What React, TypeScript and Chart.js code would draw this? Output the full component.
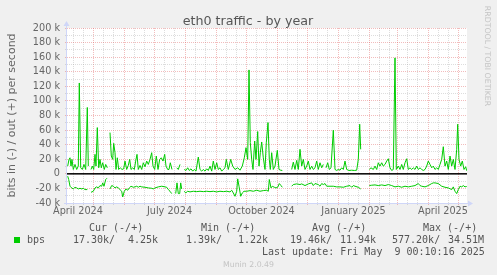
import React, { useEffect, useRef } from 'react';
import { Chart, registerables } from 'chart.js';

Chart.register(...registerables);

// x = days since 1 April 2024, y = thousands of bits per second
const outDays = [4.7, 6, 7, 8, 9, 10.3, 12, 13.7, 15.3, 16.3, 17.7, 19.3, 21, 22.7, 24.3, 25.3, 26.5,
  28, 29.3, 30.7, 32, 33, 34.3, 35.7, 37, 38.3, 39.7, 41.3, 42.7, 44.3, 45.5,
  47, 48.3, 49.7, 50.7, 52, 53, 54.3, 55.7, 57.3, 59, 60.7, 62, 63.7, 65.3, 66.7, 68, 69.7, 71.3, 72.7, 74, 75.3, 77, 78.7, 80.3, 82, 83.7, 85.3, 87, 88.7, 90, 91.7, 93.3, 95, 96.7, 98.3, 100, 101.7, 103, 104.7, 106, 107.3, 109, 111,
  113.7, 115.3, 117, 119,
  121.3, 123, 124.7, 126.3, 128, 129.7, 131.3, 133, 135.3, 137, 138.7, 140.3, 142, 143.7, 145.3, 147, 148.7, 150.3, 152, 153.7, 155.3, 157, 158.7, 160.3, 162, 163.3, 165.3, 167.7, 169.7, 172, 174.7, 177, 179.3, 181.3, 183, 184.7, 186, 187.3, 188.7, 190, 191.7, 193, 194.7, 196, 197.3, 198.7, 200.3, 202, 203.3, 205, 206.3, 207.3, 208.7, 210.3, 212, 214.3, 216, 217.7, 219.3, 224,
  228.7, 230.3, 232, 233.7, 235.3, 237, 238.7, 240.3, 242, 243.7, 245.3, 247, 248.7, 250.3, 252, 253.7, 255.3, 257, 258.7, 260.3, 261.5,
  263, 264.7, 266.3, 268, 270.3, 272, 273.7, 275.3, 277, 278.7, 280.3, 282, 283.7, 286, 288.7, 291.3, 293.7, 295.3, 296.7, 297.7, 302,
  306.3, 308, 310.3, 312, 313.7, 315.3, 317, 318.7, 320.3, 322, 323.7, 325.3, 327, 328.7, 330.3, 332, 333.3, 335.3, 337, 338.7, 340.3, 342, 343.7, 345.3, 347, 348.7, 350.3, 352, 353.7, 355.3, 357, 358.7, 360.3, 362, 363.7, 365.3, 367, 368.7, 370.3, 372, 373.7, 375.3, 377, 378.7, 380.3, 382, 383.7, 385.3, 387, 388.7, 390.3, 392, 393.7, 394.7, 396, 397.7, 399.3, 401, 402.7, 403.7];
const outValues = [10.6, 19.8, 22, 10.6, 19.8, 6, 12.9, 6, 10.6, 124.6, 8.3, 6, 12.9, 6, 91, 10.6, null,
  6, 10.6, 6, 26.7, 10.6, 63.4, 8.3, 19.8, 8.3, 15.2, 6, 12.9, 8.3, null,
  56.6, 24.4, 19.8, 41.8, 29, 6, 22, 6, 8.3, 6, 6.9, 17.5, 6, 11.5, 19.8, 6, 8.3, 6, 17.5, 26.7, 6, 11.5, 6, 15.2, 9.7, 17.5, 12.9, 19.8, 29, 10.6, 6, 24.4, 6, 19.8, 22, 17.5, 26.7, 10.6, 6, 6, 15.2, 6, null,
  8.3, 6, 12.9, null,
  6, 4.6, 8.3, 4.6, 6.9, 3.7, 6, 3.7, 23, 6, 3.7, 6, 3.7, 6.9, 4.6, 10.6, 3.7, 17.5, 6, 15.2, 6, 8.3, 3.7, 6, 8.3, 19.8, 6, 19.8, 10.6, 6, 8.3, 5, 10.6, 22, 35.9, 19.8, 142.5, 42.8, 19.8, 6, 45, 19.8, 58, 10.6, 29, 43.7, 22, 6, 42.8, 70.3, 19.8, 6, 29, 6, 10.6, 32.2, 6, 5, 4.6, null,
  6, 16, 6, 18.4, 6, 33.6, 10.6, 19.8, 6, 10.6, 17.5, 6, 10.6, 6, 8.3, 17.5, 6, 15.2, 8.3, 12.9, null,
  8.3, 15.2, 6, 8.3, 59.8, 6, 4.6, 6, 5, 8.3, 6, 17.5, 6, 4.6, 5, 4.6, 5, 19.8, 68, 33.6, null,
  6, 8.3, 6, 10.6, 6, 15.2, 10.6, 15.2, 10.6, 12.9, 17.5, 20.7, 8.3, 4.6, 6, 159, 6, 10.6, 6, 12.9, 6, 15.2, 20.7, 6, 8.3, 6, 8.3, 6, 10.6, 6, 8.3, 6, 4.6, 6, 10.6, 17.5, 12.9, 8.3, 10.6, 6, 8.3, 6, 12.9, 19.8, 37.2, 10.6, 17.5, 6, 24.4, 10.6, 19.8, 6, 33.6, 68, 19.8, 10.6, 17.5, 6, 9.7, 4.25];

const inDays = [4.7, 5.7, 7, 8.7, 10.3, 12, 13.7, 15.3, 17, 18.7, 20.3, 22, 24.3, 26,
  28, 30.3, 32, 33.7, 35.3, 37, 38.7, 39.7, 41, 42.7, 44, 45.5,
  47, 48.7, 50.3, 52, 53.7, 55.3, 57, 58.7, 59.7, 61.3, 63, 64.7, 66.3, 68, 70.3, 72, 73.7, 75.3, 77, 78.7, 82, 85.3, 88.7, 90.3, 92, 95.3, 98.7, 102, 103.7, 105.3, 107, 108.7, 110.5,
  112.7, 114, 115.3, 116.7, 117.7, 118.7, 120,
  121.3, 122.7, 124.7, 127, 130.3, 133.7, 137, 140.3, 143.7, 147, 150.3, 153.7, 157, 160.3, 163.7, 167, 168.7, 170.3, 172, 173.7, 174.7, 176, 177.7, 179.3, 181, 183.7, 187, 190.3, 193.7, 197, 200.3, 203.7, 205.3, 206.3, 208, 209.3, 211.3, 213, 214.7, 216.3, 218, 219.3, 224,
  228.7, 230.3, 233.7, 237, 238.7, 242, 245.3, 248.7, 250.3, 252, 255.3, 257, 258.7, 260.3, 262, 263.7, 267, 270.3, 273.7, 277, 280.3, 283.7, 287, 288.7, 290.3, 292, 295.3, 297.7, 302,
  306.3, 308.7, 312, 315.3, 318.7, 322, 325.3, 328.7, 332, 335.3, 338.7, 342, 345.3, 348.7, 352, 355.3, 357, 358.7, 362, 365.3, 368.7, 370.3, 372, 375.3, 378.7, 382, 385.3, 388.7, 390.3, 392, 393.7, 395.3, 397, 398.7, 400.3, 402, 403.7];
const inValues = [-3.2, -7.8, -17, -19.3, -20.7, -18.4, -19.3, -20.7, -19.8, -20.7, -19.8, -21.6, -21.6, null,
  -25.3, -23.9, -19.3, -17.9, -19.3, -16.1, -17, -12.4, -17, -7.8, -6, null,
  -20.7, -16.1, -17, -19.3, -17.9, -19.3, -21.6, -23.9, -31.7, -23.9, -20.7, -22.5, -19.3, -17, -18.4, -17.9, -17, -18.4, -17, -17.9, -18.4, -19.3, -19.8, -20.7, -19.3, -17.9, -17, -17.9, -18.4, -21.6, -23.9, -27.1, null,
  -27.1, -12.4, -27.1, -27.1, -12.4, -20.7, null,
  -23.9, -26.2, -23.9, -24.8, -23.9, -24.4, -23.9, -24.4, -23.9, -24.4, -23.9, -24.8, -23.9, -24.4, -23.9, -24.8, -22.5, -26.2, -30.8, -23.9, -6.9, -17, -30.8, -26.2, -23.9, -23.9, -23, -23.9, -22.5, -23.9, -23, -22.5, -23.9, -7.8, -19.3, -17, -18.4, -19.3, -18.4, -13.3, -16.1, -18.4, null,
  -17, -14.7, -13.8, -14.7, -13.8, -16.1, -13.8, -12.4, -16.1, -13.3, -14.7, -17, -13.3, -14.7, -13.3, -17, -17, -17, -17.9, -17.9, -18.4, -17, -16.1, -18.4, -16.1, -17, -18.4, -20.7, null,
  -16.1, -15.6, -15.2, -16.1, -15.2, -16.1, -14.7, -16.1, -17.9, -17, -18.4, -17, -17.9, -17, -16.1, -13.3, -16.1, -17, -17.9, -16.1, -13.3, -12.4, -12.4, -13.3, -17, -18.4, -19.3, -21.6, -17.9, -23.9, -27.1, -21.6, -17, -17.9, -16.1, -17.9, -17.3];

const monthStarts = [0, 30, 61, 91, 122, 153, 183, 214, 244, 275, 306, 334, 365, 395];
const minorOffsets = [10, 20];
const monthLabels = ['April 2024', 'July 2024', 'October 2024', 'January 2025', 'April 2025'];
const monthLabelDays = [15, 106.5, 198.5, 290.5, 380];
const xMin = 4;
const xMax = 404;
const yMin = -40;
const yMax = 200;

const legendHeaders = ['Cur (-/+)', 'Min (-/+)', 'Avg (-/+)', 'Max (-/+)'];
const legendIn = ['17.30k/', '1.39k/', '19.46k/', '577.20k/'];
const legendOut = ['4.25k', '1.22k', '11.94k', '34.51M'];
const seriesName = 'bps';
const titleText = 'eth0 traffic - by year';
const yTitle = 'bits in (-) / out (+) per second';
const lastUpdate = 'Last update: Fri May  9 00:10:16 2025';
const watermark = 'RRDTOOL / TOBI OETIKER';
const footer = 'Munin 2.0.49';

const GREEN = '#00cc00';
const MAJOR = 'rgba(222,79,79,0.38)';
const MINOR = 'rgba(150,150,150,0.32)';
const AXIS = '#CFD6F8';
const FONT = '#666666';

const majorSet = new Set(monthStarts);
const minorList = monthStarts.flatMap((m) => minorOffsets.map((o) => m + o));
const xTickValues = Array.from(new Set([...monthStarts, ...minorList, ...monthLabelDays]))
  .filter((v) => v >= xMin && v <= xMax)
  .sort((a, b) => a - b);

function xGridColor(v: number) {
  if (majorSet.has(v)) return MAJOR;
  if (monthLabelDays.includes(v)) return 'rgba(0,0,0,0)';
  return MINOR;
}

const decor = {
  id: 'muninDecor',
  beforeDraw(chart: any) {
    const { ctx, chartArea: a } = chart;
    ctx.save();
    ctx.fillStyle = '#F0F0F0';
    ctx.fillRect(0, 0, chart.width, chart.height);
    ctx.fillStyle = '#FFFFFF';
    ctx.fillRect(a.left, a.top, a.right - a.left, a.bottom - a.top);
    ctx.restore();
  },
  afterDraw(chart: any) {
    const { ctx, chartArea: a } = chart;
    const ys = chart.scales.y;
    ctx.save();
    // zero rule
    const y0 = ys.getPixelForValue(0);
    ctx.fillStyle = '#000000';
    ctx.fillRect(a.left, y0 - 0.75, a.right - a.left, 1.5);
    // axes with arrows
    ctx.strokeStyle = AXIS;
    ctx.fillStyle = AXIS;
    ctx.lineWidth = 1;
    ctx.beginPath();
    ctx.moveTo(a.left - 0.5, a.bottom + 2);
    ctx.lineTo(a.left - 0.5, a.top - 4);
    ctx.moveTo(a.left - 3, a.bottom + 0.5);
    ctx.lineTo(a.right + 2, a.bottom + 0.5);
    ctx.stroke();
    ctx.beginPath();
    ctx.moveTo(a.left - 3.5, a.top - 2);
    ctx.lineTo(a.left - 0.5, a.top - 7);
    ctx.lineTo(a.left + 2.5, a.top - 2);
    ctx.closePath();
    ctx.fill();
    ctx.beginPath();
    ctx.moveTo(a.right + 1, a.bottom - 2.5);
    ctx.lineTo(a.right + 6, a.bottom + 0.5);
    ctx.lineTo(a.right + 1, a.bottom + 3.5);
    ctx.closePath();
    ctx.fill();

    // title
    ctx.fillStyle = '#555555';
    ctx.font = '12.7px "DejaVu Sans"';
    ctx.textAlign = 'center';
    ctx.textBaseline = 'alphabetic';
    ctx.fillText(titleText, 248, 24.5);

    // vertical unit label
    ctx.save();
    ctx.fillStyle = FONT;
    ctx.font = '11px "DejaVu Sans"';
    ctx.translate(15, (a.top + a.bottom) / 2);
    ctx.rotate(-Math.PI / 2);
    ctx.fillText(yTitle, 0, 0);
    ctx.restore();

    // watermark
    ctx.save();
    ctx.fillStyle = '#c4c4c4';
    ctx.font = '7.8px "DejaVu Sans"';
    ctx.translate(485, 56);
    ctx.rotate(Math.PI / 2);
    ctx.fillText(watermark, 0, 0);
    ctx.restore();

    // legend
    ctx.font = '10px "DejaVu Sans Mono"';
    ctx.fillStyle = '#555555';
    ctx.textAlign = 'left';
    const headX = [89, 201, 312, 423];
    const inX = [73, 186, 290, 392];
    const outX = [128, 238, 340, 448];
    legendHeaders.forEach((t, i) => ctx.fillText(t, headX[i], 231));
    ctx.fillText(seriesName, 27, 243.3);
    legendIn.forEach((t, i) => ctx.fillText(t, inX[i], 243.3));
    legendOut.forEach((t, i) => ctx.fillText(t, outX[i], 243.3));
    ctx.fillText(lastUpdate, 262, 255.3);
    ctx.fillStyle = GREEN;
    ctx.fillRect(14, 237, 6, 6);

    ctx.fillStyle = '#c4c4c4';
    ctx.font = '7.8px "DejaVu Sans"';
    ctx.textAlign = 'center';
    ctx.fillText(footer, 248.5, 266.5);
    ctx.restore();
  },
};

export default function App() {
  const ref = useRef<HTMLCanvasElement | null>(null);
  useEffect(() => {
    if (!ref.current) return;
    Chart.defaults.font.family = '"DejaVu Sans", sans-serif';
    const chart = new Chart(ref.current, {
      type: 'line',
      data: {
        datasets: [
          {
            label: 'in',
            data: inDays.map((d, i) => ({ x: d, y: inValues[i] })),
            borderColor: GREEN,
            borderWidth: 1,
            pointRadius: 0,
            tension: 0,
            spanGaps: false,
          },
          {
            label: 'out',
            data: outDays.map((d, i) => ({ x: d, y: outValues[i] })),
            borderColor: GREEN,
            borderWidth: 1,
            pointRadius: 0,
            tension: 0,
            spanGaps: false,
          },
        ],
      },
      options: {
        responsive: false,
        animation: false,
        devicePixelRatio: 1,
        parsing: false,
        normalized: true,
        layout: { padding: { top: 28, right: 30, left: 0, bottom: 0 } },
        plugins: {
          legend: { display: false },
          title: { display: false },
          tooltip: { enabled: false },
        },
        scales: {
          x: {
            type: 'linear',
            min: xMin,
            max: xMax,
            afterBuildTicks: (s: any) => {
              s.ticks = xTickValues.map((v) => ({ value: v }));
            },
            afterFit: (s: any) => {
              s.height = 72;
            },
            ticks: {
              autoSkip: false,
              maxRotation: 0,
              minRotation: 0,
              padding: 1,
              color: FONT,
              font: { size: 9.7 },
              callback: (v: any) => {
                const i = monthLabelDays.indexOf(Number(v));
                return i >= 0 ? monthLabels[i] : '';
              },
            },
            grid: {
              color: (c: any) => xGridColor(c.tick ? c.tick.value : -1),
              tickColor: (c: any) => xGridColor(c.tick ? c.tick.value : -1),
              lineWidth: 1,
              drawTicks: true,
              tickLength: 2,
            },
            border: { display: false, dash: [1, 1] },
          },
          y: {
            type: 'linear',
            min: yMin,
            max: yMax,
            afterFit: (s: any) => {
              s.width = 67;
            },
            ticks: {
              stepSize: 10,
              autoSkip: false,
              padding: 5,
              color: FONT,
              font: { size: 9.7 },
              callback: (v: any) => {
                const n = Number(v);
                if (n % 20 !== 0) return '';
                return n === 0 ? '0' : `${n} k`;
              },
            },
            grid: {
              color: (c: any) => (c.tick && c.tick.value % 20 === 0 ? MAJOR : MINOR),
              tickColor: (c: any) => (c.tick && c.tick.value % 20 === 0 ? MAJOR : MINOR),
              lineWidth: 1,
              drawTicks: true,
              tickLength: 2,
            },
            border: { display: false, dash: [1, 1] },
          },
        },
      },
      plugins: [decor],
    } as any);
    return () => chart.destroy();
  }, []);

  return (
    <div style={{ position: 'absolute', left: 0, top: 0, width: 497, height: 275 }}>
      <canvas ref={ref} width={497} height={275} style={{ width: 497, height: 275, display: 'block' }} />
    </div>
  );
}
